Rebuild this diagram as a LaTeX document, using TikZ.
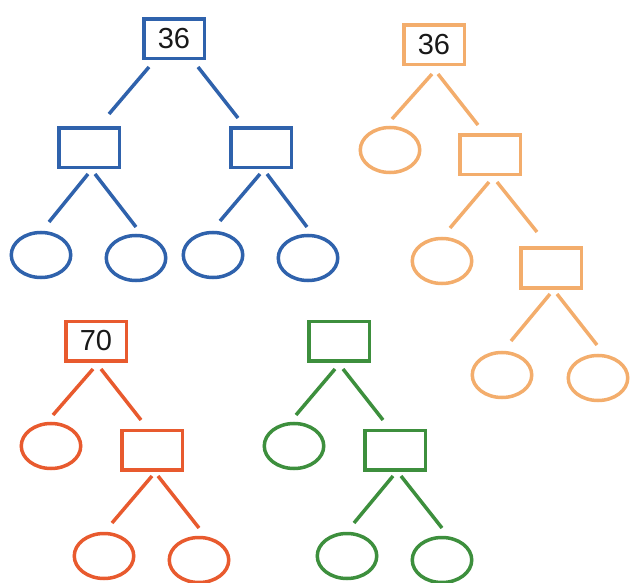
\documentclass[tikz,border=0pt]{standalone}
\usepackage{fontspec}
\setmainfont{Liberation Sans}
\usetikzlibrary{shapes.geometric,calc}
\definecolor{tblue}{HTML}{2F62AC}
\definecolor{torange}{HTML}{F3AD6C}
\definecolor{tred}{HTML}{E85A2E}
\definecolor{tgreen}{HTML}{3D8F3D}
\begin{document}
\begin{tikzpicture}[x=1pt,y=-1pt,
  box/.style={draw,rectangle,line width=3.5pt,minimum width=60.5pt,minimum height=39.5pt,inner sep=0pt,
    font=\fontsize{29}{34}\selectfont,text=black!90},
  oval/.style={draw,ellipse,line width=3.5pt,minimum width=59.5pt,minimum height=45pt,inner sep=0pt},
  link/.style={line width=3.5pt}]
\useasboundingbox (0,0) rectangle (630,583);
% blue tree
\begin{scope}[tblue]
\node[box] (b0) at (174,39) {36};
\node[box] (b1) at (89,148) {};
\node[box] (b2) at (261,148) {};
\node[oval] (b3) at (41,255) {};
\node[oval] (b4) at (136,258) {};
\node[oval] (b5) at (213,255) {};
\node[oval] (b6) at (308,258) {};
\draw[link] ($(b0)+(-25,28)$) -- ($(b1)+(20,-34)$);
\draw[link] ($(b0)+(24,28)$) -- ($(b2)+(-23,-30)$);
\draw[link] ($(b1)+(-1,26)$) -- ($(b3)+(8,-33)$);
\draw[link] ($(b1)+(6,26)$) -- ($(b4)+(0,-31)$);
\draw[link] ($(b2)+(-1,26)$) -- ($(b5)+(7,-34)$);
\draw[link] ($(b2)+(6,26)$) -- ($(b6)+(-1,-31)$);
\end{scope}
% orange tree
\begin{scope}[torange]
\node[box] (o0) at (434,45) {36};
\node[oval] (o1) at (390,150) {};
\node[box] (o2) at (490,155) {};
\node[oval] (o3) at (442,261) {};
\node[box] (o4) at (551,268) {};
\node[oval] (o5) at (502,375) {};
\node[oval] (o6) at (598,378) {};
\draw[link] ($(o0)+(-2,29)$) -- ($(o1)+(2,-31)$);
\draw[link] ($(o0)+(4,29)$) -- ($(o2)+(-12,-30)$);
\draw[link] ($(o2)+(-1,27)$) -- ($(o3)+(8,-33)$);
\draw[link] ($(o2)+(7,27)$) -- ($(o4)+(-14,-36)$);
\draw[link] ($(o4)+(-1,26)$) -- ($(o5)+(9,-34)$);
\draw[link] ($(o4)+(6,26)$) -- ($(o6)+(-1,-33)$);
\end{scope}
% red tree
\begin{scope}[tred]
\node[box] (r0) at (96,341) {70};
\node[oval] (r1) at (51,446) {};
\node[box] (r2) at (152,450) {};
\node[oval] (r3) at (104,556) {};
\node[oval] (r4) at (199,560) {};
\draw[link] ($(r0)+(-3,28)$) -- ($(r1)+(2,-31)$);
\draw[link] ($(r0)+(5,28)$) -- ($(r2)+(-11,-30)$);
\draw[link] ($(r2)+(0,26)$) -- ($(r3)+(8,-33)$);
\draw[link] ($(r2)+(6,26)$) -- ($(r4)+(0,-32)$);
\end{scope}
% green tree
\begin{scope}[tgreen]
\node[box] (g0) at (339,341) {};
\node[oval] (g1) at (294,446) {};
\node[box] (g2) at (395,450) {};
\node[oval] (g3) at (347,556) {};
\node[oval] (g4) at (442,560) {};
\draw[link] ($(g0)+(-4,28)$) -- ($(g1)+(2,-31)$);
\draw[link] ($(g0)+(4,28)$) -- ($(g2)+(-12,-30)$);
\draw[link] ($(g2)+(-2,26)$) -- ($(g3)+(7,-33)$);
\draw[link] ($(g2)+(6,26)$) -- ($(g4)+(0,-32)$);
\end{scope}
\end{tikzpicture}
\end{document}
